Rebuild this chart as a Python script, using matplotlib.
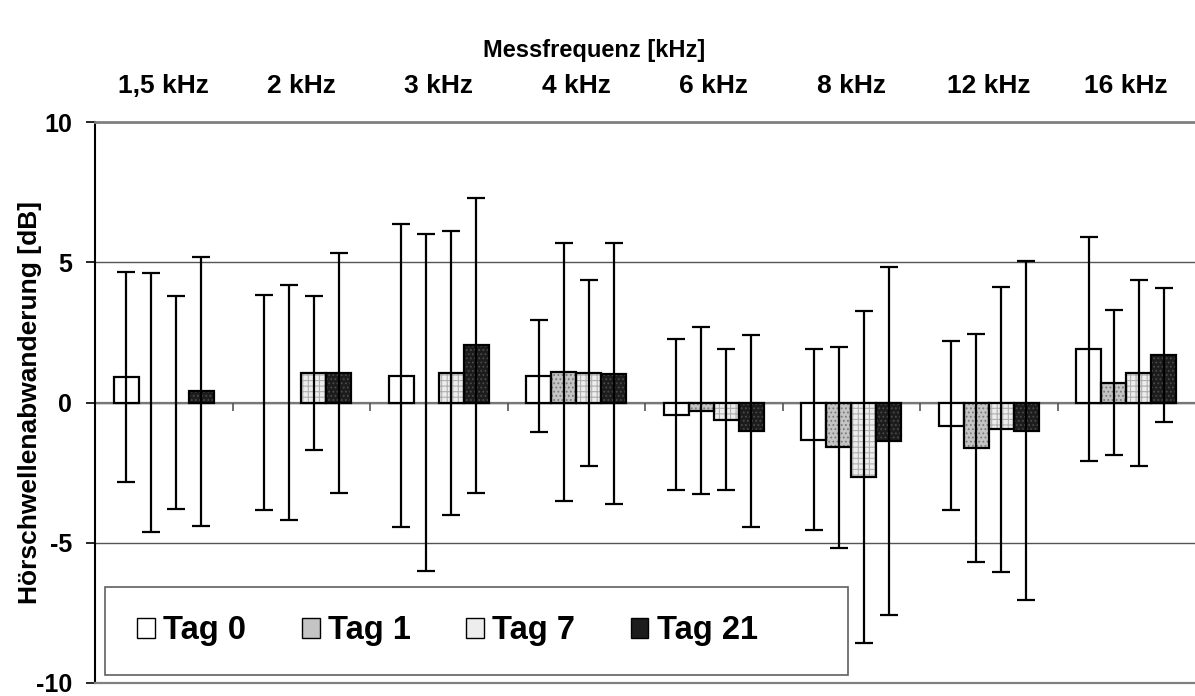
import matplotlib
matplotlib.use('Agg')
import matplotlib.pyplot as plt
import numpy as np
from matplotlib.patches import Rectangle, Patch

# ---------------- data ----------------
freqs = ['1,5 kHz', '2 kHz', '3 kHz', '4 kHz', '6 kHz', '8 kHz', '12 kHz', '16 kHz']
labels = ['Tag 0', 'Tag 1', 'Tag 7', 'Tag 21']
tag0 = [0.9, 0.0, 0.95, 0.95, -0.43, -1.32, -0.82, 1.9]
tag0_err = [3.75, 3.85, 5.4, 2.0, 2.7, 3.23, 3.0, 4.0]
tag1 = [0.0, 0.0, 0.0, 1.08, -0.29, -1.6, -1.61, 0.7]
tag1_err = [4.6, 4.2, 6.0, 4.6, 2.97, 3.57, 4.06, 2.58]
tag7 = [0.0, 1.05, 1.05, 1.05, -0.61, -2.65, -0.96, 1.06]
tag7_err = [3.8, 2.75, 5.05, 3.33, 2.52, 5.92, 5.07, 3.32]
tag21 = [0.4, 1.05, 2.04, 1.03, -1.02, -1.38, -1.0, 1.69]
tag21_err = [4.8, 4.28, 5.25, 4.66, 3.41, 6.2, 6.03, 2.39]
yticks = [-10, -5, 0, 5, 10]

values = [tag0, tag1, tag7, tag21]
errors = [tag0_err, tag1_err, tag7_err, tag21_err]

# ---------------- style ----------------
plt.rcParams['font.family'] = ['Liberation Sans', 'DejaVu Sans']
plt.rcParams['font.weight'] = 'bold'
plt.rcParams['hatch.linewidth'] = 0.8

faces = ['white', '#c4c4c4', '#ededed', '#1c1c1c']
hatches = [None, '....', '+++', '....']
hatch_cols = ['white', '#7a7a7a', '#b0b0b0', '#4a4a4a']

W, H = 1195, 696
fig = plt.figure(figsize=(W / 100, H / 100), dpi=100)
ax = fig.add_axes([95 / W, 13 / H, 1100 / W, 561 / H])

x = np.arange(len(freqs))
w = 0.1818

for i, (vals, errs) in enumerate(zip(values, errors)):
    pos = x + (i - 1.5) * w
    ax.bar(pos, vals, w, facecolor=faces[i], hatch=hatches[i],
           edgecolor=hatch_cols[i], linewidth=0, zorder=2)
    outl = ax.bar(pos, vals, w, fill=False, edgecolor='black', linewidth=1.6, zorder=2.5)
    for b, v in zip(outl, vals):
        if v == 0:
            b.set_linewidth(0)
    ax.errorbar(pos, vals, yerr=errs, fmt='none', ecolor='black',
                elinewidth=1.6, capsize=6.5, capthick=1.6, zorder=3)

ax.set_xlim(-0.5, len(freqs) - 0.5)
ax.set_ylim(-10, 10)
ax.set_yticks(yticks)
ax.set_yticklabels([str(t) for t in yticks], fontsize=18, fontweight='bold')
ax.yaxis.grid(True, color='#555555', linewidth=1.0, zorder=0)
ax.set_axisbelow(True)

ax.axhline(0, color='#777777', linewidth=1.6, zorder=1)
ax.vlines(x[:-1] + 0.5, -0.3, 0, color='#555555', linewidth=1.2, zorder=1)

ax.spines['right'].set_visible(False)
ax.spines['top'].set_color('#808080')
ax.spines['top'].set_linewidth(2.0)
ax.spines['bottom'].set_color('#808080')
ax.spines['bottom'].set_linewidth(1.6)
ax.spines['left'].set_color('black')
ax.spines['left'].set_linewidth(1.5)

ax.tick_params(axis='y', direction='out', length=6.5, width=1.2, pad=10, colors='black')
ax.set_xticks(x)
ax.set_xticklabels(freqs, fontsize=19, fontweight='bold')
ax.tick_params(axis='x', bottom=False, labelbottom=False, top=True, labeltop=True, length=0, pad=17)

ax.set_ylabel('Hörschwellenabwanderung [dB]', fontsize=19, fontweight='bold')
ax.yaxis.set_label_coords(-0.048, 0.5)

fig.text(594 / W, 1 - 51 / H, 'Messfrequenz [kHz]', fontsize=17, fontweight='bold',
         ha='center', va='center')

box = Rectangle((10 / 1100, 8 / 561), 743 / 1100, 88 / 561, transform=ax.transAxes,
                facecolor='white', edgecolor='#606060', linewidth=1.2, zorder=4)
ax.add_patch(box)
handles = [Patch(facecolor=faces[i], edgecolor='black', linewidth=1.0) for i in range(4)]
leg = ax.legend(handles, labels, ncol=4, loc='center left',
                bbox_to_anchor=(42 / 1100, 52 / 561), frameon=False,
                prop={'family': ['Liberation Sans', 'DejaVu Sans'], 'weight': 'bold', 'size': 23.5},
                handlelength=0.55, handleheight=0.55, handletextpad=0.25,
                columnspacing=1.7, borderpad=0, borderaxespad=0)
leg.set_zorder(5)

fig.savefig('out.png', dpi=100)
